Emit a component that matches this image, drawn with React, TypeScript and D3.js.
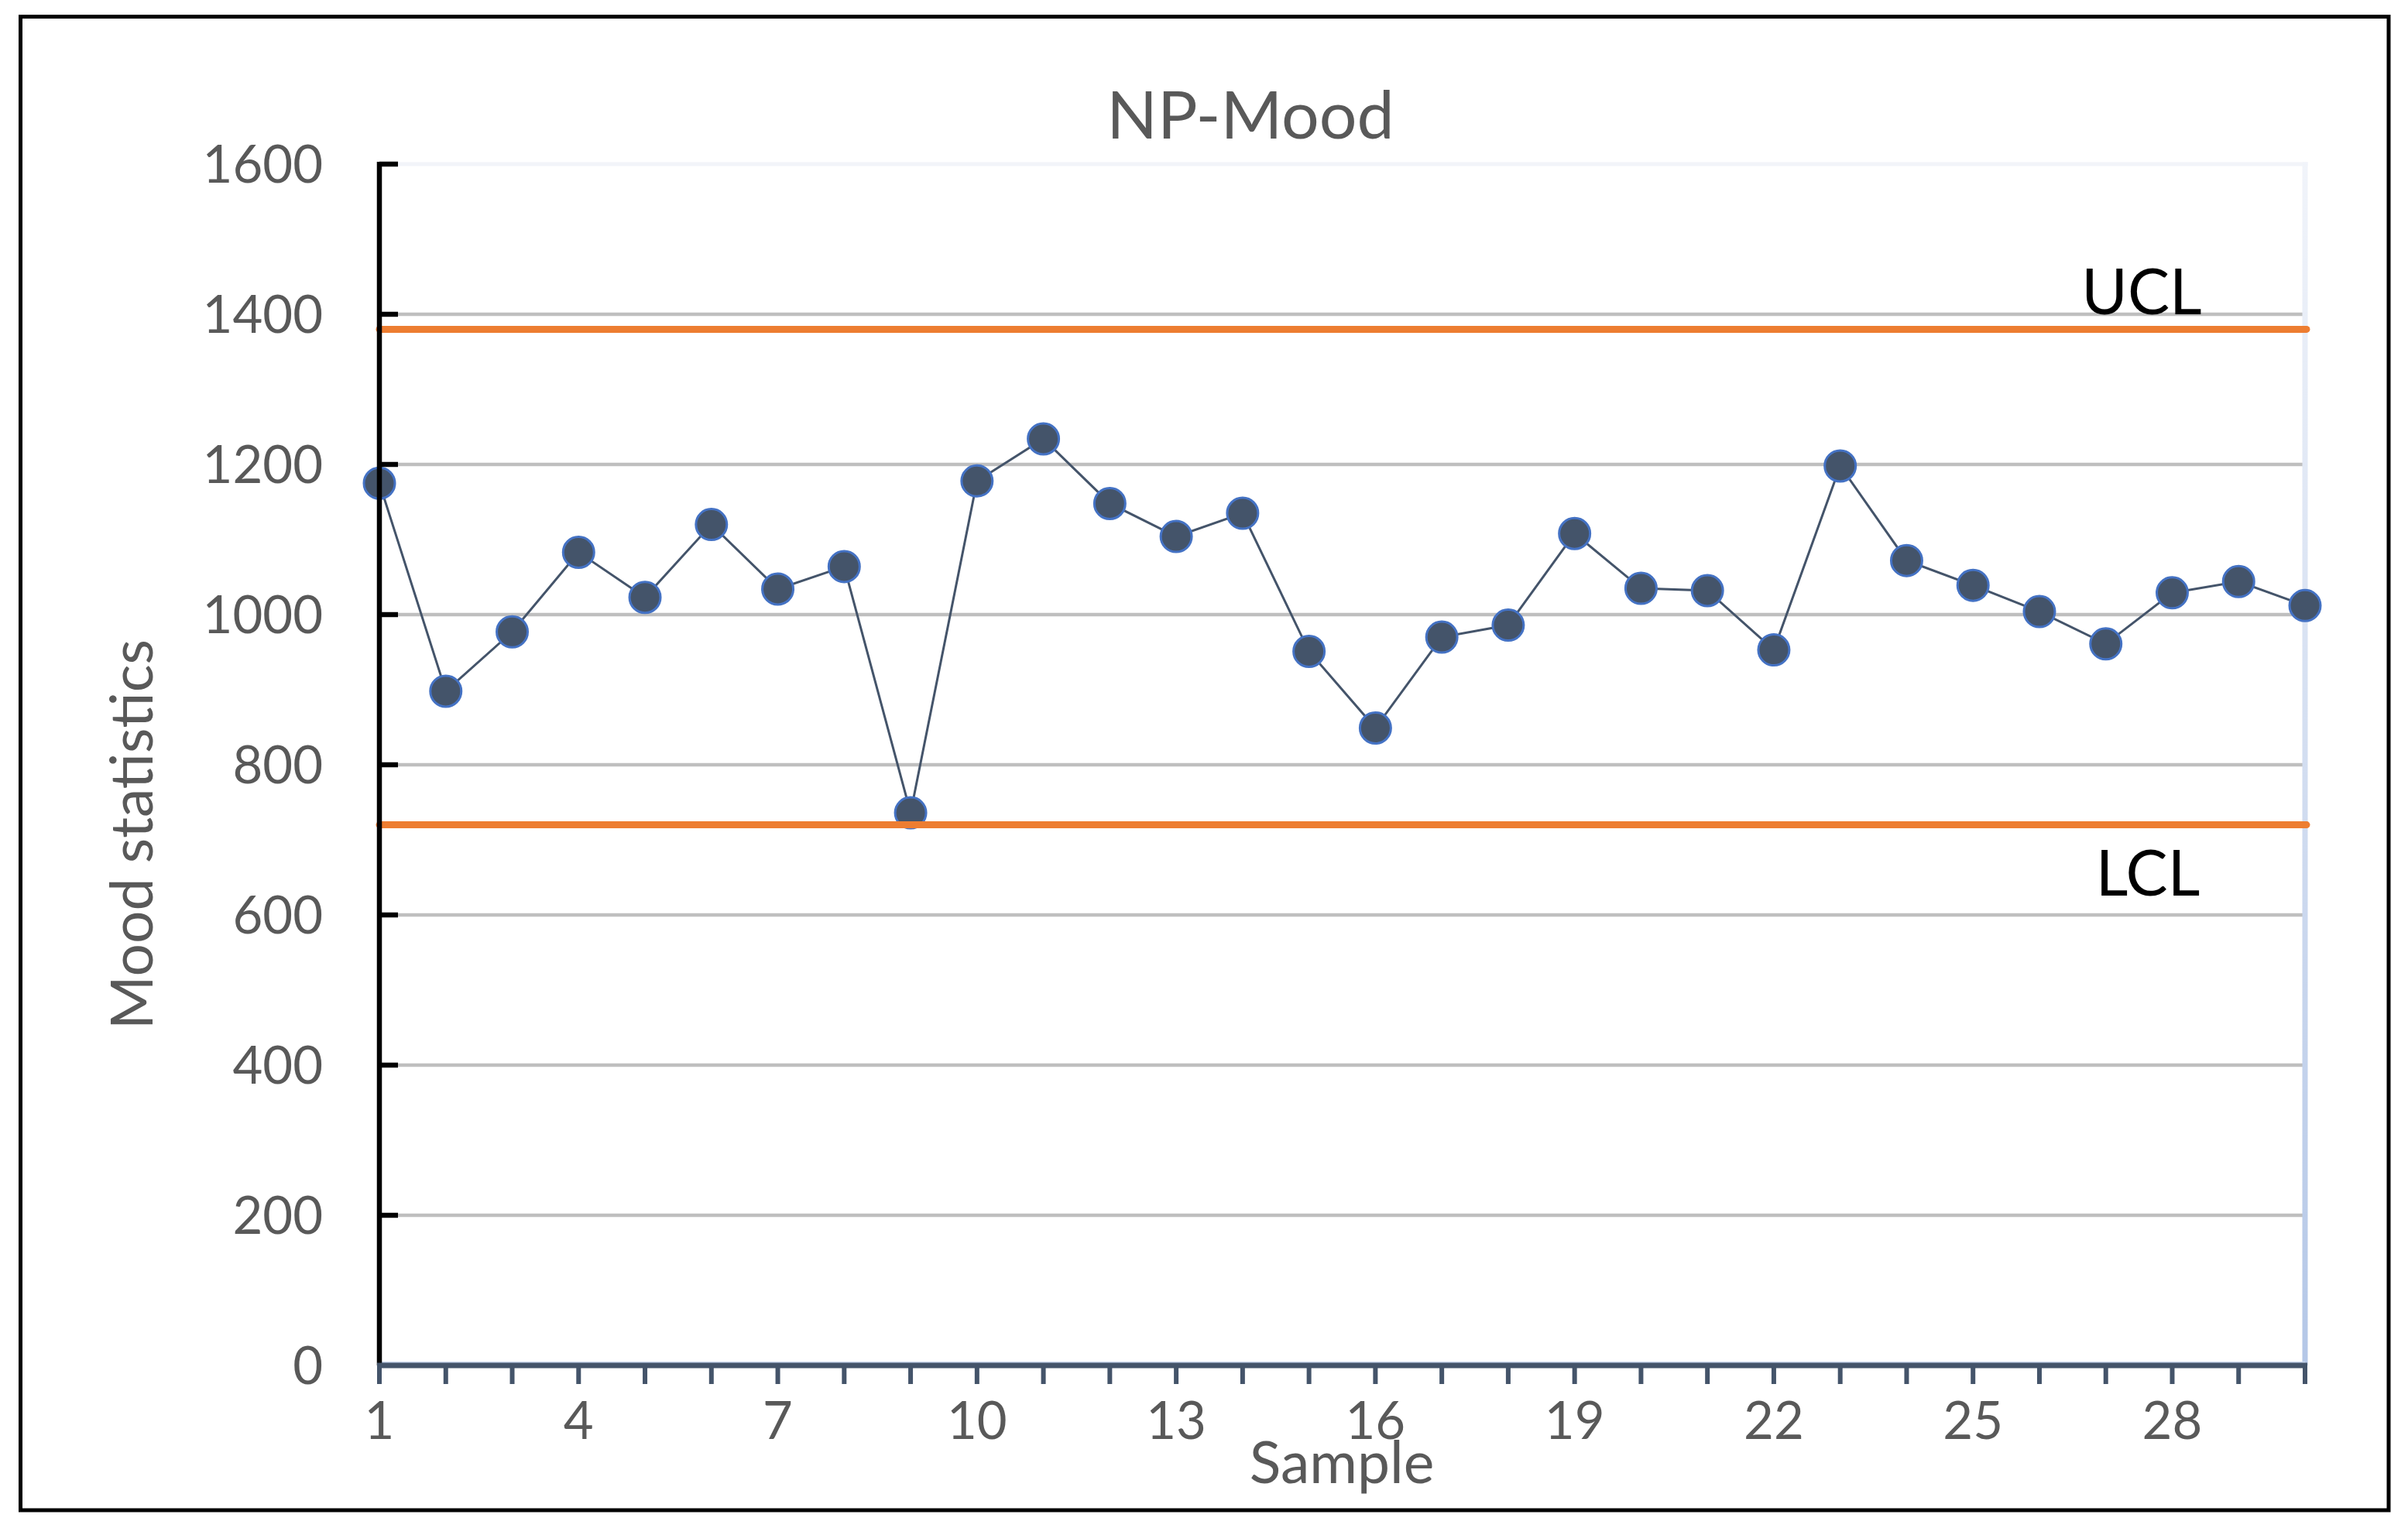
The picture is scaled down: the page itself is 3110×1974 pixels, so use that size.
import React from "react";
import * as d3 from "d3";

const samples: number[] = Array.from({ length: 30 }, (_, i) => i + 1);
const moodValues: number[] = [
  1175, 898, 977, 1083, 1023, 1120, 1034, 1064, 736, 1178,
  1234, 1148, 1104, 1135, 951, 849, 970, 986, 1108, 1035,
  1032, 953, 1198, 1072, 1039, 1004, 961, 1029, 1044, 1012,
];
const yTicks: number[] = [0, 200, 400, 600, 800, 1000, 1200, 1400, 1600];
const xTickLabels: number[] = [1, 4, 7, 10, 13, 16, 19, 22, 25, 28];
const UCL = 1380;
const LCL = 720;

const W = 3110;
const H = 1974;
const FONT = "Lato, 'Open Sans', sans-serif";
const GRAY_TEXT = "#595959";
const SERIES = "#44546a";

export default function App() {
  const x = d3.scaleLinear().domain([1, 30]).range([490, 2977]);
  const y = d3.scaleLinear().domain([0, 1600]).range([1764, 212]);
  const pts = samples.map((s, i) => [x(s), y(moodValues[i])] as [number, number]);
  const line = d3.line<[number, number]>().x((d) => d[0]).y((d) => d[1]);

  const [x0, x1] = x.range();
  const yTop = y(1600);
  const yBot = y(0);

  return (
    <svg
      width={W}
      height={H}
      viewBox={`0 0 ${W} ${H}`}
      style={{ position: "absolute", left: 0, top: 0, display: "block", background: "#fff" }}
    >
      <defs>
        <linearGradient id="rightEdge" x1="0" y1="0" x2="0" y2="1">
          <stop offset="0" stopColor="#f1f4fa" />
          <stop offset="1" stopColor="#b4c7e7" />
        </linearGradient>
      </defs>
      <rect x={0} y={0} width={W} height={H} fill="#fff" />
      {/* outer border */}
      <rect x={26.5} y={21.5} width={3058.5} height={1929.5} fill="none" stroke="#000" strokeWidth={5} />

      {/* title */}
      <text x={1615} y={179} textAnchor="middle" fontFamily={FONT} fontSize={86} fill={GRAY_TEXT}>
        NP-Mood
      </text>

      {/* gridlines */}
      {yTicks
        .filter((t) => t > 0 && t < 1600)
        .map((t) => (
          <line key={`g${t}`} x1={x0} x2={x1} y1={y(t)} y2={y(t)} stroke="#bfbfbf" strokeWidth={4.5} />
        ))}
      {/* plot area top edge */}
      <line x1={x0} x2={x1 + 3.5} y1={yTop} y2={yTop} stroke="#f2f4f9" strokeWidth={5} />
      {/* plot area right edge */}
      <rect x={x1 - 3.5} y={yTop - 2.5} width={7} height={yBot - yTop + 2.5} fill="url(#rightEdge)" />
      <line x1={x0} x2={x1} y1={yBot - 4} y2={yBot - 4} stroke="#c9d6ec" strokeWidth={2} />

      {/* series */}
      <path d={line(pts) || ""} fill="none" stroke={SERIES} strokeWidth={3} />
      {pts.map((p, i) => (
        <circle key={`p${i}`} cx={p[0]} cy={p[1]} r={20} fill={SERIES} stroke="#4472c4" strokeWidth={3} />
      ))}

      {/* control limits */}
      <line x1={x0} x2={x1 + 2} y1={y(UCL)} y2={y(UCL)} stroke="#ed7d31" strokeWidth={9} strokeLinecap="round" />
      <line x1={x0} x2={x1 + 2} y1={y(LCL)} y2={y(LCL)} stroke="#ed7d31" strokeWidth={9} strokeLinecap="round" />
      <text x={2766} y={406} textAnchor="middle" fontFamily={FONT} fontSize={81} fill="#000">
        UCL
      </text>
      <text x={2774} y={1157} textAnchor="middle" fontFamily={FONT} fontSize={81} fill="#000">
        LCL
      </text>

      {/* y axis */}
      <line x1={x0} x2={x0} y1={yTop - 3} y2={yBot} stroke="#000" strokeWidth={6.5} />
      {yTicks
        .filter((t) => t > 0)
        .map((t) => (
          <line key={`yt${t}`} x1={x0} x2={x0 + 24} y1={y(t)} y2={y(t)} stroke="#000" strokeWidth={6.5} />
        ))}
      {yTicks.map((t) => (
        <text
          key={`yl${t}`}
          x={417}
          y={y(t)}
          dy="0.355em"
          textAnchor="end"
          fontFamily={FONT}
          fontSize={67}
          fill={GRAY_TEXT}
        >
          {t}
        </text>
      ))}

      {/* x axis */}
      <line x1={x0 - 3} x2={x1 + 3} y1={yBot} y2={yBot} stroke={SERIES} strokeWidth={7} />
      {samples.map((s) => (
        <line key={`xt${s}`} x1={x(s)} x2={x(s)} y1={yBot} y2={1788} stroke={SERIES} strokeWidth={6} />
      ))}
      {xTickLabels.map((s) => (
        <text key={`xl${s}`} x={x(s)} y={1859} textAnchor="middle" fontFamily={FONT} fontSize={67} fill={GRAY_TEXT}>
          {s}
        </text>
      ))}

      {/* axis titles */}
      <text x={1733} y={1916} textAnchor="middle" fontFamily={FONT} fontSize={75} fill={GRAY_TEXT}>
        Sample
      </text>
      <text
        transform={`translate(197, 1078) rotate(-90)`}
        textAnchor="middle"
        fontFamily={FONT}
        fontSize={75}
        fill={GRAY_TEXT}
      >
        Mood statistics
      </text>
    </svg>
  );
}
